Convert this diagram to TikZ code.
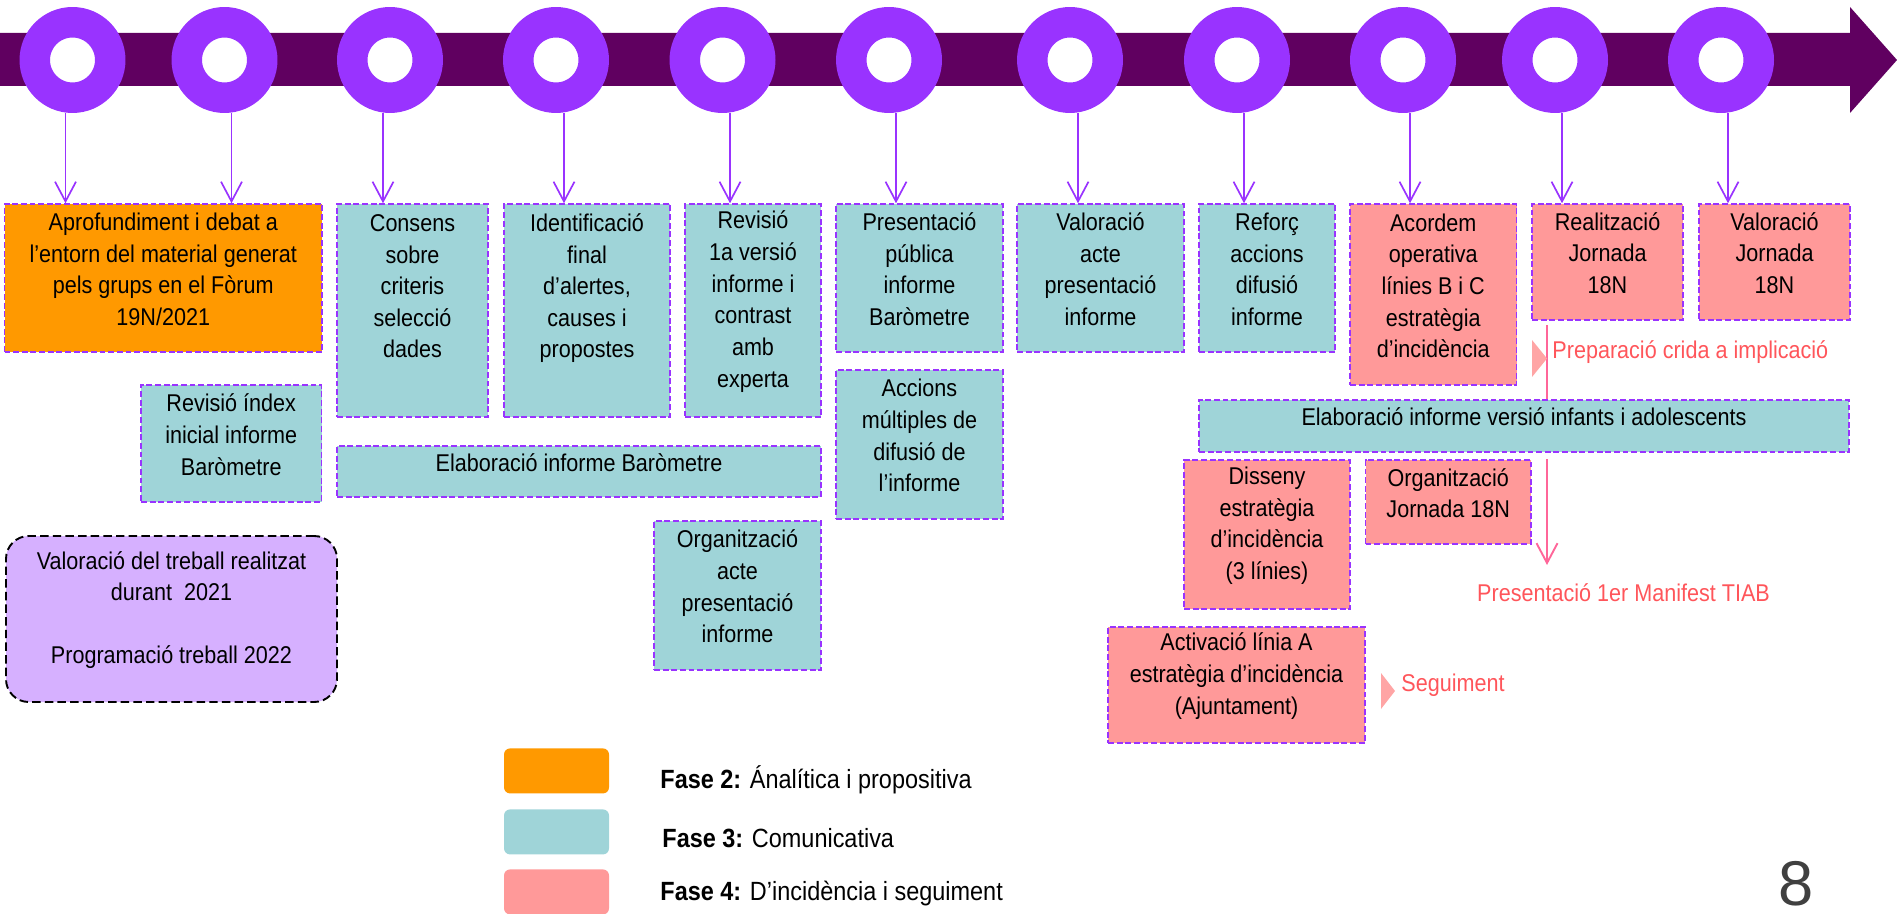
\documentclass[tikz,border=0pt]{standalone}
\usepackage{fontspec}
\setmainfont{Liberation Sans}[FakeStretch=0.89]
\newfontfamily\numfont{Liberation Sans}
\usetikzlibrary{arrows.meta, fit, positioning, calc}

\definecolor{banda}{RGB}{96,0,96}
\definecolor{violeta}{RGB}{153,51,255}
\definecolor{taronja}{RGB}{255,153,0}
\definecolor{blauverd}{RGB}{159,212,216}
\definecolor{rosat}{RGB}{255,153,153}
\definecolor{lila}{RGB}{214,176,255}
\definecolor{textrosa}{RGB}{255,85,90}
\definecolor{colorlinia}{RGB}{255,102,153}
\definecolor{marcarosa}{RGB}{255,165,165}
\definecolor{grisfosc}{RGB}{64,64,64}

\newcommand{\pix}{0.1667mm}

\tikzset{
  caixa/.style={draw=violeta, line width=0.7pt, dash pattern=on 2.8pt off 1.3pt,
    inner sep=0pt, align=center, font=\fontsize{11.5}{15}\selectfont},
  fase2/.style={caixa, fill=taronja},
  fase3/.style={caixa, fill=blauverd},
  fase4/.style={caixa, fill=rosat},
  anell/.style={circle, draw=violeta, fill=white, line width=5.08mm,
    minimum size=12.58mm, inner sep=0pt},
  fletxa/.style={violeta, line width=0.8pt, -{Straight Barb[length=3.3mm, width=3.5mm]}},
  liniacrida/.style={colorlinia, line width=0.9pt},
  notarosa/.style={text=textrosa, inner sep=0pt, font=\fontsize{11.5}{15}\selectfont},
  marca/.style={fill=marcarosa},
  mostra/.style={rounded corners=1mm, minimum width=17.5mm, minimum height=7.5mm, inner sep=0pt},
  llegenda/.style={anchor=west, inner sep=0pt, font=\fontsize{12.5}{15}\selectfont}
}

\begin{document}
\begin{tikzpicture}[x=\pix, y=-\pix]
\useasboundingbox (0,0) rectangle (1897,914);

% banda del temps
\fill[banda] (0,33) -- (1850,33) -- (1850,7) -- (1897,60) -- (1850,113) -- (1850,86) -- (0,86) -- cycle;

\foreach \n/\x in {1/72.5, 2/224.5, 3/390, 4/556, 5/722.5, 6/889, 7/1070, 8/1237, 9/1403, 10/1555, 11/1721}
{
    \node[anell] (r\n) at (\x,60) {};
};

% fila de dalt
\node[fase2, fit={(4.5,204) (322,352)}] (aprof) {Aprofundiment i debat a\\l’entorn del material generat\\pels grups en el Fòrum\\19N/2021};
\node[fase3, fit={(337,204) (488,417)}] (consens) {Consens\\sobre\\criteris\\selecció\\dades\\~};
\node[fase3, fit={(504,204) (670,417)}] (identif) {Identificació\\final\\d’alertes,\\causes i\\propostes\\~};
\node[fase3, fit={(685,204) (821,417)}] (revisio) {Revisió\\1a versió\\informe i\\contrast\\amb\\experta};
\node[fase3, fit={(836,204) (1003,352)}] (presentacio) {Presentació\\pública\\informe\\Baròmetre};
\node[fase3, fit={(1017,204) (1184,352)}] (valacte) {Valoració\\acte\\presentació\\informe};
\node[fase3, fit={(1199,204) (1335,352)}] (reforc) {Reforç\\accions\\difusió\\informe};
\node[fase4, fit={(1350,204) (1516.5,385)}] (acordem) {Acordem\\operativa\\línies B i C\\estratègia\\d’incidència};
\node[fase4, fit={(1532,204) (1683,320)}] (realitzacio) {Realització\\Jornada\\18N};
\node[fase4, fit={(1699,204) (1850,320)}] (valjornada) {Valoració\\Jornada\\18N};

% la resta
\node[fase3, align=left, fit={(141,385) (321.5,502)}] (index) {Revisió índex\\inicial informe\\Baròmetre};
\node[fase3, fit={(337,446) (821,497)}] (elabbar) {Elaboració informe Baròmetre};
\node[fase3, fit={(836,370) (1003,519)}] (accions) {Accions\\múltiples de\\difusió de\\l’informe};
\node[fase3, fit={(654,521) (821,670)}] (orgacte) {Organització\\acte\\presentació\\informe};
\node[caixa, draw=black, line width=0.9pt, dash pattern=on 4pt off 2pt, fill=lila, rounded corners=3.8mm,
      fit={(6,536) (337,702)}] (valtreball) {Valoració del treball realitzat\\durant~ 2021\\[15pt]Programació treball 2022};
\node[fase3, fit={(1199,400) (1849,452)}] (infants) {Elaboració informe versió infants i adolescents};
\node[fase4, fit={(1184,460) (1350,609)}] (disseny) {Disseny\\estratègia\\d’incidència\\(3 línies)};
\node[fase4, fit={(1365.5,460) (1531,544)}] (orgjornada) {Organització\\Jornada 18N};
\node[fase4, fit={(1108,627) (1365,743)}] (activacio) {Activació línia A\\estratègia d’incidència\\(Ajuntament)};

\foreach \n/\d/\c in {1/-7/aprof, 2/7/aprof, 3/-7/consens, 4/8/identif, 5/7.5/revisio, 6/7/presentacio,
                      7/8/valacte, 8/7/reforc, 9/7/acordem, 10/7/realitzacio, 11/7/valjornada}
{
    \coordinate (s\n) at ([xshift=\d*\pix]r\n.south);
    \draw[fletxa] (s\n) -- (s\n |- \c.north);
};

% notes en rosa
\coordinate (crida) at (1547,325);
\coordinate (fi) at (1547,565);
\draw[liniacrida] (crida) -- (crida |- infants.north);
\draw[liniacrida, -{Straight Barb[length=3.3mm, width=3.5mm]}] (crida |- orgjornada.north) -- (fi);
\fill[marca] (1532,340) -- (1547,358.5) -- (1532,377) -- cycle;
\fill[marca] (1381,673) -- (1395,691) -- (1381,709) -- cycle;
\node[notarosa, anchor=west] (preparacio) at (1552,352) {Preparació crida a implicació};
\node[notarosa] (manifest) at (1623.5,593) {Presentació 1er Manifest TIAB};
\node[notarosa, anchor=west] (seguiment) at (1401,685) {Seguiment};

% llegenda
\node[mostra, fill=taronja, anchor=north west] (m2) at (503.6,748) {};
\node[mostra, fill=blauverd, anchor=north west] (m3) at (503.6,809) {};
\node[mostra, fill=rosat, anchor=north west] (m4) at (503.6,869) {};
\node[llegenda] (f2) at (660,780) {\textbf{Fase 2:} Ánalítica i propositiva};
\node[llegenda] (f3) at (662,838) {\textbf{Fase 3:} Comunicativa};
\node[llegenda] (f4) at (660,894) {\textbf{Fase 4:} D’incidència i seguiment};

\node[text=grisfosc, font=\numfont\fontsize{30}{30}\selectfont, inner sep=0pt] (pagina) at (1796,884) {8};
\end{tikzpicture}
\end{document}
